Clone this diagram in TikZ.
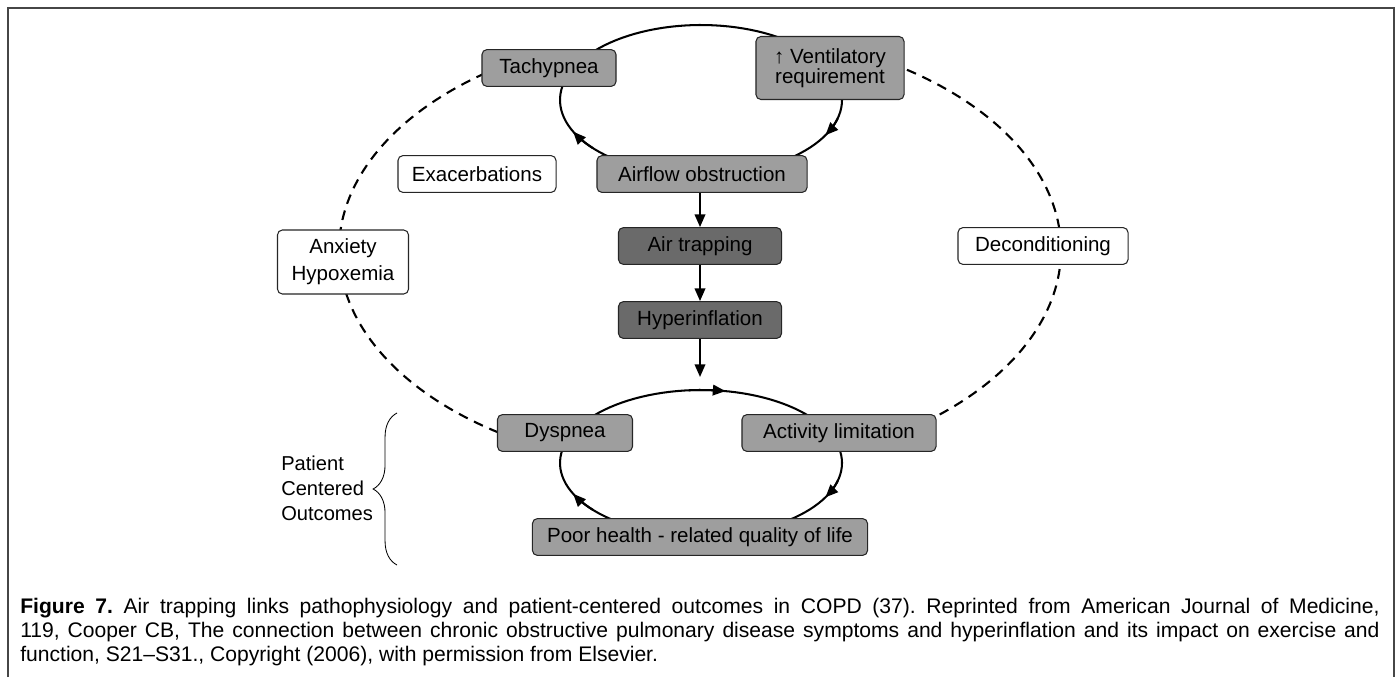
\documentclass[tikz,border=0pt]{standalone}
\usepackage{fontspec}
\setmainfont{Liberation Sans}
\usetikzlibrary{arrows.meta,decorations.pathreplacing}
\definecolor{lightbox}{RGB}{158,158,158}
\definecolor{darkbox}{RGB}{106,106,106}
\definecolor{framecol}{RGB}{70,70,70}
\begin{document}
\begin{tikzpicture}[x=0.025cm,y=-0.025cm,
  lbl/.style={font=\fontsize{14.6}{17}\selectfont},
  boxbase/.style={lbl,draw=black!85,line width=0.75pt,rounded corners=3.5pt,inner sep=0pt,align=center,minimum height=0.92cm},
  greybox/.style={boxbase,fill=lightbox},
  darkgreybox/.style={boxbase,fill=darkbox},
  whitebox/.style={boxbase,fill=white},
  loopline/.style={line width=1.45pt},
  looparrow/.style={line width=1.45pt,-{Triangle[length=9pt,width=7.5pt]}},
  dashline/.style={line width=1.5pt,dash pattern=on 7pt off 5pt},
  flowarrow/.style={line width=1.35pt,-{Triangle[length=9pt,width=7.5pt]}}]
\useasboundingbox (0,0) rectangle (1399,677);
% frame
\draw[framecol,line width=0.9pt] (8,677) -- (8,8) -- (1394,8) -- (1394,677);
% big dashed loop
\draw[dashline] plot[domain=121:236,samples=80] ({700+361*cos(\x)},{250+220*sin(\x)});
\draw[dashline] plot[domain=-58:52,samples=80] ({700+361*cos(\x)},{250+220*sin(\x)});
% upper loop
\draw[loopline] plot[domain=0:360,samples=120] ({701+141*cos(\x)},{100+75*sin(\x)}) -- cycle;
\draw[looparrow] plot[domain=140:155,samples=8] ({701+141*cos(\x)},{100+75*sin(\x)});
\draw[looparrow] plot[domain=14:28,samples=8] ({701+141*cos(\x)},{100+75*sin(\x)});
% lower loop
\draw[loopline] plot[domain=0:360,samples=120] ({701+141*cos(\x)},{463+73*sin(\x)}) -- cycle;
\draw[looparrow] plot[domain=-95:-80,samples=8] ({701+141*cos(\x)},{463+73*sin(\x)});
\draw[looparrow] plot[domain=14:28,samples=8] ({701+141*cos(\x)},{463+73*sin(\x)});
\draw[looparrow] plot[domain=140:155,samples=8] ({701+141*cos(\x)},{463+73*sin(\x)});
% nodes
\node[greybox,minimum width=3.35cm] (tach) at (549,68) {Tachypnea};
\node[greybox,minimum width=3.7cm,minimum height=1.575cm,font=\fontsize{14.6}{14.3}\selectfont] (vent) at (830,68) {↑ Ventilatory\\requirement};
\node[greybox,minimum width=5.25cm] (airflow) at (702,174) {Airflow obstruction};
\node[whitebox,minimum width=3.95cm] (exac) at (477,174) {Exacerbations};
\node[whitebox,minimum width=3.275cm,minimum height=1.6cm,font=\fontsize{14.6}{19.3}\selectfont] (anx) at (343,262) {Anxiety\\Hypoxemia};
\node[whitebox,minimum width=4.25cm] (decond) at (1043,246) {Deconditioning};
\node[darkgreybox,minimum width=4.075cm] (trap) at (700,246) {Air trapping};
\node[darkgreybox,minimum width=4.075cm] (hyper) at (700,320) {Hyperinflation};
\node[greybox,minimum width=3.375cm] (dysp) at (565,433) {Dyspnea};
\node[greybox,minimum width=4.85cm] (activ) at (839,433) {Activity limitation};
\node[greybox,minimum width=8.375cm] (poor) at (700,537) {Poor health - related quality of life};
\coordinate (lowtop) at (700,377);
% vertical arrows
\draw[flowarrow] (airflow.south -| trap.north) -- (trap.north);
\draw[flowarrow] (trap) -- (hyper);
\draw[flowarrow] (hyper) -- (lowtop);
% brace and label
\coordinate (brb) at (397,565);
\coordinate (brt) at (397,413);
\draw[line width=0.6pt,decorate,decoration={brace,amplitude=17pt}] (brb) -- (brt);
\node[anchor=west,inner sep=0pt,align=left,font=\fontsize{14.3}{17.8}\selectfont] (pco) at (281,488) {Patient\\Centered\\Outcomes};
% caption
\node[anchor=north west,inner sep=0pt,text width=33.975cm,align=justify,font=\fontsize{15}{17.1}\selectfont] (cap) at (20,598)
{\frenchspacing\hyphenpenalty=10000\tolerance=9999\textbf{Figure 7.} Air trapping links pathophysiology and patient-centered outcomes in COPD (37). Reprinted from American Journal of Medicine,\linebreak 119, Cooper CB, The connection between chronic obstructive pulmonary disease symptoms and hyperinflation and its impact on exercise and\linebreak function, S21–S31., Copyright (2006), with permission from Elsevier.};
\end{tikzpicture}
\end{document}
